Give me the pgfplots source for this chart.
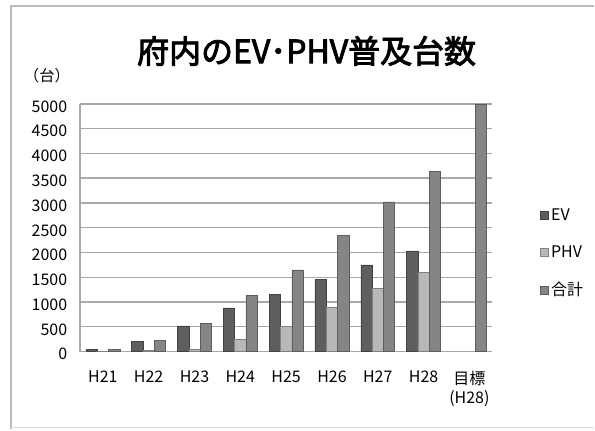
\documentclass[border=0pt]{standalone}
\usepackage{fontspec}
\setmainfont{Noto Sans CJK JP}
\newfontfamily\titlefont{Noto Sans CJK JP}[FakeBold=2.8]
\usepackage{pgfplots}
\pgfplotsset{compat=1.18}
\definecolor{evc}{HTML}{5E5E5E}
\definecolor{phvc}{HTML}{B8B8B8}
\definecolor{totc}{HTML}{858585}
\definecolor{gridc}{HTML}{A8A8A8}
\begin{document}
\begin{tikzpicture}[x=0.75pt,y=-0.75pt]
\path (0,0) rectangle (595,430);
\draw[gray!55, line width=1.2pt] (11,430) -- (11,6) -- (595,6);
\draw[gray!25, line width=0.8pt] (11,428) -- (595,428);
\node[font=\titlefont\fontsize{24}{28}\selectfont] at (307,51) {府内のEV･PHV普及台数};
\node[font=\fontsize{11.5}{13}\selectfont] at (47,76) {（台）};
\begin{axis}[
  at={(60pt,-264pt)}, anchor=south west,
  scale only axis, width=309.75pt, height=186pt,
  xmin=-0.5, xmax=8.5, ymin=0, ymax=5000,
  ytick distance=500,
  xtick={0,...,8},
  xticklabels={H21,H22,H23,H24,H25,H26,H27,H28,{目標\\(H28)}},
  /pgf/number format/assume math mode=true,
  /pgf/number format/1000 sep={},
  ticklabel style={font=\fontsize{12}{14}\selectfont},
  xticklabel style={align=center, yshift=-7pt},
  yticklabel style={xshift=-6pt, yshift=-2pt},
  tick style={draw=none},
  ymajorgrids, grid style={gridc, line width=1pt},
  axis x line*=bottom, axis y line*=left,
  axis line style={gridc, line width=1pt},
  ybar=0pt, bar width=8.5pt,
  legend style={at={(1.105,0.6)}, anchor=north west, draw=none, fill=none,
    font=\fontsize{12}{14}\selectfont, row sep=13.5pt},
  legend cell align=left,
  legend image code/.code={\fill[#1] (0pt,-3pt) rectangle (6pt,3pt);},
]
\addplot[fill=evc, draw=evc!70!black] coordinates {(0,40)(1,200)(2,520)(3,880)(4,1150)(5,1450)(6,1750)(7,2030)};
\addplot[fill=phvc, draw=phvc!70!black] coordinates {(0,8)(1,20)(2,50)(3,250)(4,500)(5,900)(6,1270)(7,1600)};
\addplot[fill=totc, draw=totc!70!black] coordinates {(0,48)(1,220)(2,570)(3,1130)(4,1650)(5,2350)(6,3020)(7,3630)(8,5000)};
\legend{EV,PHV,合計}
\end{axis}
\end{tikzpicture}
\end{document}
